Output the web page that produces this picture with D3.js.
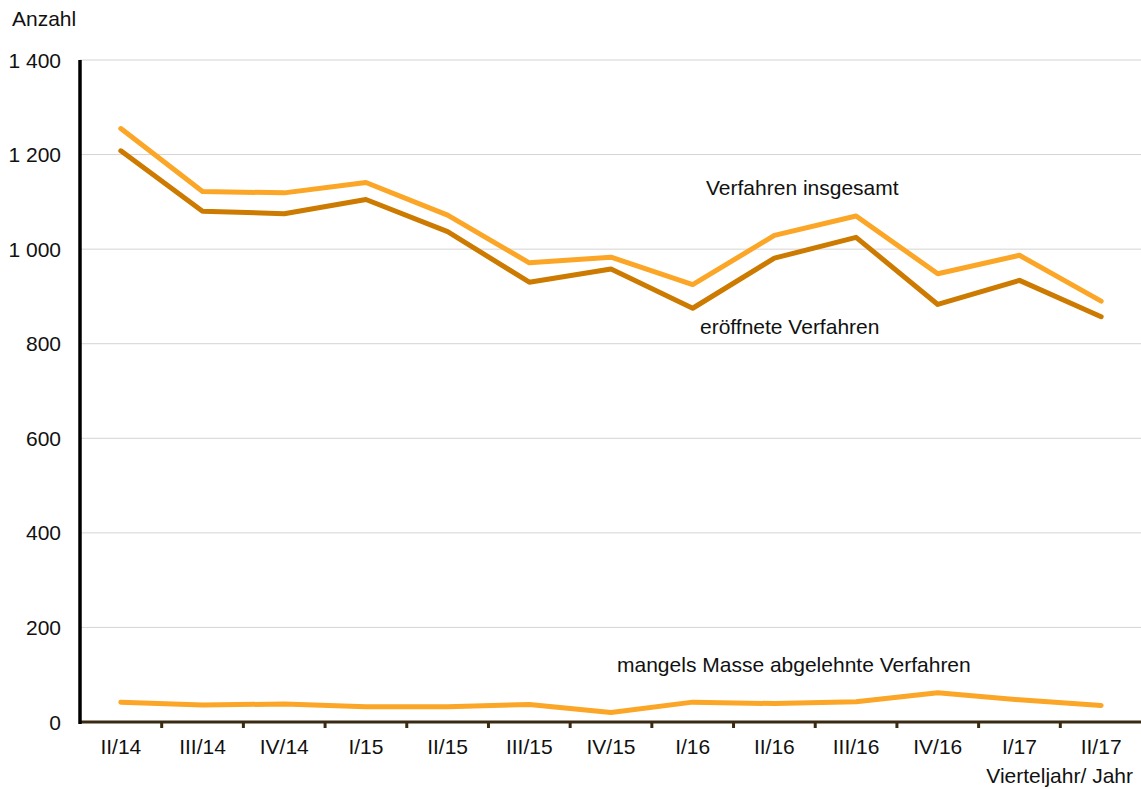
<!DOCTYPE html>
<html>
<head>
<meta charset="utf-8">
<script src="https://cdn.jsdelivr.net/npm/d3@7"></script>
<style>
  body { margin: 0; background: #fff; }
  text { font-family: "Liberation Sans", Arial, sans-serif; fill: #111; }
</style>
</head>
<body>
<div id="chart"></div>
<script>
var categories = ["II/14", "III/14", "IV/14", "I/15", "II/15", "III/15", "IV/15", "I/16", "II/16", "III/16", "IV/16", "I/17", "II/17"];
var insgesamt = [1255, 1122, 1119, 1141, 1072, 971, 983, 925, 1029, 1070, 948, 987, 890];
var eroeffnete = [1208, 1080, 1075, 1105, 1037, 930, 958, 875, 981, 1025, 883, 934, 857];
var mangels = [42, 36, 38, 32, 32, 37, 20, 42, 39, 43, 62, 47, 35];
var yTicks = [0, 200, 400, 600, 800, 1000, 1200, 1400];

var width = 1141, height = 789;
var fontSize = "21px";
var svg = d3.select("#chart").append("svg")
    .attr("width", width)
    .attr("height", height);

var x = d3.scaleBand().domain(categories).range([80, 1142]);
var y = d3.scaleLinear().domain([0, 1400]).range([722, 60]);

var fmt = function (v) {
    return d3.format(",")(v).replace(/,/g, " ");
};

// gridlines
svg.append("g")
    .selectAll("line")
    .data(yTicks.filter(function (d) { return d > 0; }))
    .enter()
    .append("line")
    .attr("x1", 80)
    .attr("x2", width)
    .attr("y1", function (d) { return y(d); })
    .attr("y2", function (d) { return y(d); })
    .attr("stroke", "#d4d4d4")
    .attr("stroke-width", 1);

// y tick labels
svg.append("g")
    .selectAll("text")
    .data(yTicks)
    .enter()
    .append("text")
    .attr("x", 61)
    .attr("y", function (d) { return y(d) + 7.5; })
    .attr("text-anchor", "end")
    .attr("font-size", fontSize)
    .text(fmt);

// lines
var line = d3.line()
    .x(function (d, i) { return x(categories[i]) + x.bandwidth() / 2; })
    .y(function (d) { return y(d); });

var series = [
    {values: insgesamt, color: "#FBA626"},
    {values: eroeffnete, color: "#CC7A00"},
    {values: mangels, color: "#FBA626"}
];

svg.append("g")
    .selectAll("path")
    .data(series)
    .enter()
    .append("path")
    .attr("d", function (d) { return line(d.values); })
    .attr("fill", "none")
    .attr("stroke", function (d) { return d.color; })
    .attr("stroke-width", 5)
    .attr("stroke-linejoin", "round")
    .attr("stroke-linecap", "round");

// x axis
svg.append("line")
    .attr("x1", 80).attr("x2", width)
    .attr("y1", 722).attr("y2", 722)
    .attr("stroke", "#3b2a12")
    .attr("stroke-width", 3);

svg.append("g")
    .selectAll("line")
    .data(categories.slice(1))
    .enter()
    .append("line")
    .attr("x1", function (d) { return x(d); })
    .attr("x2", function (d) { return x(d); })
    .attr("y1", 722)
    .attr("y2", 728)
    .attr("stroke", "#3b2a12")
    .attr("stroke-width", 3);

svg.append("g")
    .selectAll("text")
    .data(categories)
    .enter()
    .append("text")
    .attr("x", function (d) { return x(d) + x.bandwidth() / 2; })
    .attr("y", 754)
    .attr("text-anchor", "middle")
    .attr("font-size", fontSize)
    .text(function (d) { return d; });

// y axis
svg.append("line")
    .attr("x1", 80).attr("x2", 80)
    .attr("y1", 60).attr("y2", 724)
    .attr("stroke", "#000")
    .attr("stroke-width", 3.5);

// titles and labels
svg.append("text").attr("x", 12).attr("y", 26).attr("font-size", fontSize).text("Anzahl");
svg.append("text").attr("x", 1133).attr("y", 783).attr("text-anchor", "end").attr("font-size", fontSize).text("Vierteljahr/ Jahr");
svg.append("text").attr("x", 706).attr("y", 195).attr("font-size", fontSize).text("Verfahren insgesamt");
svg.append("text").attr("x", 700).attr("y", 334).attr("font-size", fontSize).text("eröffnete Verfahren");
svg.append("text").attr("x", 617).attr("y", 672).attr("font-size", fontSize).text("mangels Masse abgelehnte Verfahren");
</script>
</body>
</html>
